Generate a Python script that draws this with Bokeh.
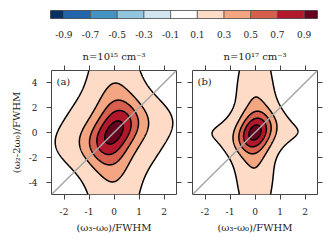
import numpy as np
from bokeh.plotting import figure
from bokeh.layouts import column, row
from bokeh.models import FixedTicker, LinearAxis, Label, Slope, Range1d
from bokeh.embed import file_html
from bokeh.resources import INLINE

# ---- data ----
levels = [0.1, 0.3, 0.5, 0.7, 0.9, 1.1]
fill_colors = ["#fddbc7", "#f4a582", "#d6604d", "#b2182b", "#67001f"]
cbar_bounds = [-1.0, -0.9, -0.7, -0.5, -0.3, -0.1, 0.1, 0.3, 0.5, 0.7, 0.9, 1.0]
cbar_colors = ["#053061", "#2166ac", "#4393c3", "#92c5de", "#d1e5f0", "#ffffff",
               "#fddbc7", "#f4a582", "#d6604d", "#b2182b", "#67001f"]
cbar_ticks = [-0.9, -0.7, -0.5, -0.3, -0.1, 0.1, 0.3, 0.5, 0.7, 0.9]
cbar_labels = ["-0.9", "-0.7", "-0.5", "-0.3", "-0.1", "0.1", "0.3", "0.5", "0.7", "0.9"]
x_ticks = [-2, -1, 0, 1, 2]
x_labels = ["-2", "-1", "0", "1", "2"]
y_ticks = [-4, -2, 0, 2, 4]
y_labels = ["-4", "-2", "0", "2", "4"]
titles = ["n=10¹⁵ cm⁻³", "n=10¹⁷ cm⁻³"]
tags = ["(a)", "(b)"]
xlabel = "(ω₃-ω₀)/FWHM"
ylabel = "(ω₂-2ω₀)/FWHM"
# spectral profile parameters: [tail weight, core width, tail width]
xprof_a = [0.41, 0.57, 1.35]
yprof_a = [0.32, 1.70, 6.0]
shear_a = [0.20, 2.5]
xprof_b = [0.13, 0.48, 2.3]
yprof_b = [0.33, 1.08, 5.0]
shear_b = [0.12, 2.0]

FONT = "DejaVu Serif"
TXT = "#222222"
EDGE = "#444444"


def profile(t, prm):
    w, s1, s2 = prm
    return (1 - w) * np.exp(-t ** 2 / (2 * s1 ** 2)) + w * np.exp(-t ** 2 / (2 * s2 ** 2))


def field(xprof, yprof, shear):
    gx = np.linspace(-2.5, 2.5, 251)
    gy = np.linspace(-5, 5, 401)
    X, Y = np.meshgrid(gx, gy)
    s, ys = shear
    U = X - s * Y * np.exp(-(Y / ys) ** 2)
    return gx, gy, profile(U, xprof) * profile(Y, yprof)


def style_axis(ax, labels_on, ticks, labels):
    ax.ticker = FixedTicker(ticks=ticks)
    ax.minor_tick_line_color = None
    ax.major_tick_in = 0
    ax.major_tick_out = 5
    ax.major_tick_line_color = EDGE
    ax.axis_line_color = None
    ax.major_label_text_font = FONT
    ax.axis_label_text_font = FONT
    ax.axis_label_text_font_style = "normal"
    ax.axis_label_text_color = TXT
    ax.axis_label_text_font_size = "10px"
    if labels_on:
        ax.major_label_overrides = {t: l for t, l in zip(ticks, labels)}
        ax.major_label_text_color = TXT
        ax.major_label_text_font_size = "9px"
        ax.major_label_standoff = 9
    else:
        ax.major_label_text_color = None
        ax.major_label_text_font_size = "1px"
        ax.major_label_standoff = 0


def panel(i, xprof, yprof, shear, left_border, right_border, show_ylabels):
    p = figure(frame_width=125, frame_height=124,
               x_range=Range1d(-2.5, 2.5), y_range=Range1d(-5, 5),
               output_backend="svg", toolbar_location=None,
               min_border_left=left_border, min_border_right=right_border,
               min_border_top=24, min_border_bottom=41)
    p.grid.visible = False
    p.outline_line_color = EDGE
    p.outline_line_width = 1
    p.background_fill_color = "white"
    p.border_fill_color = "white"
    gx, gy, Z = field(xprof, yprof, shear)
    p.contour(gx, gy, Z, levels=levels, fill_color=fill_colors,
              line_color="black", line_width=1.5)
    p.add_layout(Slope(gradient=2, y_intercept=0, line_color="#a6a6a6", line_width=1.5))
    p.add_layout(Label(x=-2.3, y=4.1, text=tags[i], text_font=FONT, text_font_size="10px",
                       text_color=TXT, text_baseline="middle"))
    style_axis(p.xaxis[0], True, x_ticks, x_labels)
    p.xaxis[0].axis_label = xlabel
    p.xaxis[0].major_label_standoff = 8
    p.xaxis[0].axis_label_standoff = 4
    style_axis(p.yaxis[0], show_ylabels, y_ticks, y_labels)
    if show_ylabels:
        p.yaxis[0].axis_label = ylabel
        p.yaxis[0].axis_label_standoff = 4
    top = LinearAxis()
    style_axis(top, False, x_ticks, x_labels)
    p.add_layout(top, "above")
    right = LinearAxis()
    style_axis(right, False, y_ticks, y_labels)
    p.add_layout(right, "right")
    p.title.text = titles[i]
    p.title.align = "center"
    p.title.text_font = FONT
    p.title.text_font_size = "10px"
    p.title.text_font_style = "normal"
    p.title.text_color = TXT
    p.title.standoff = 8
    return p


pa = panel(0, xprof_a, yprof_a, shear_a, 51, 8, True)
pb = panel(1, xprof_b, yprof_b, shear_b, 8, 9, False)

cb = figure(frame_width=267, frame_height=8, x_range=Range1d(-1, 1), y_range=Range1d(0, 1),
            output_backend="svg", toolbar_location=None,
            min_border_left=50, min_border_right=9, min_border_top=10, min_border_bottom=26)
cb.quad(left=cbar_bounds[:-1], right=cbar_bounds[1:], bottom=0, top=1,
        fill_color=cbar_colors, line_color="#555555", line_width=0.8)
cb.grid.visible = False
cb.yaxis.visible = False
cb.outline_line_color = "#555555"
style_axis(cb.xaxis[0], True, cbar_ticks, cbar_labels)
cb.xaxis[0].major_tick_out = 0
cb.xaxis[0].major_label_standoff = 12

layout = column(cb, row(pa, pb, spacing=0), spacing=0)
open("out.html", "w").write(file_html(layout, INLINE))
